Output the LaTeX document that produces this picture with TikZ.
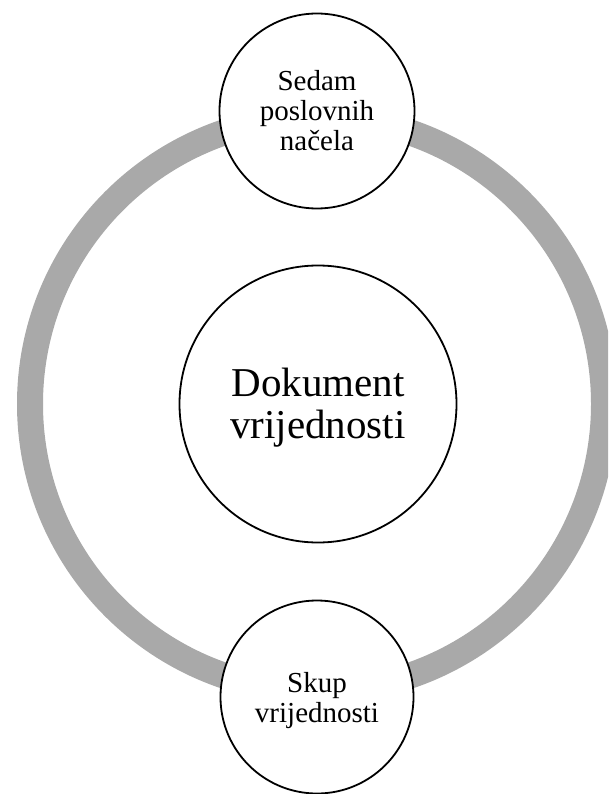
\documentclass[tikz,border=0pt]{standalone}
\usepackage{fontspec}
\setmainfont{Liberation Serif}
\definecolor{ringgray}{HTML}{A9A9A9}
\tikzset{
  ringline/.style={draw=ringgray, line width=26pt},
  bubble/.style={circle, draw=black, line width=1.8pt, fill=white, inner sep=0pt},
  smalltxt/.style={align=center, inner sep=0pt, font=\fontsize{29}{30}\selectfont},
  bigtxt/.style={align=center, inner sep=0pt, font=\fontsize{41}{42}\selectfont}
}
\begin{document}
\begin{tikzpicture}[x=1pt,y=-1pt]
  \useasboundingbox (0,0) rectangle (608,794);
  \clip (0,0) rectangle (608,794);
  \coordinate (ringc) at (317,404);
  \draw[ringline] (ringc) circle[radius=287pt];
  \node[bubble, minimum size=195pt] (top) at (317,111) {};
  \node[bubble, minimum size=277pt] (doc) at (318,404) {};
  \node[bubble, minimum size=193pt] (bot) at (317,697) {};
  \node[smalltxt] (toptext) at ([yshift=0pt]top.center) {Sedam\\poslovnih\\načela};
  \node[bigtxt] (doctext) at ([yshift=-3.5pt]doc.center) {Dokument\\vrijednosti};
  \node[smalltxt] (bottext) at ([yshift=-4pt]bot.center) {Skup\\vrijednosti};
\end{tikzpicture}
\end{document}
